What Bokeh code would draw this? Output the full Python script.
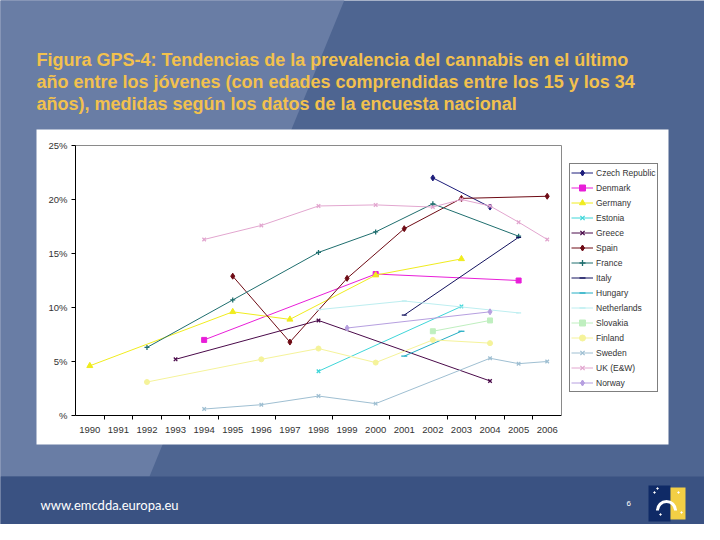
import math
from bokeh.plotting import figure
from bokeh.models import Range1d, LinearAxis, FixedTicker, Legend, LegendItem
from bokeh.embed import file_html
from bokeh.resources import INLINE
from bokeh.core.properties import value

# ---------------- data ----------------
title_lines = [
    "Figura GPS-4: Tendencias de la prevalencia del cannabis en el último",
    "año entre los jóvenes (con edades comprendidas entre los 15 y los 34",
    "años), medidas según los datos de la encuesta nacional",
]
footer_url = "www.emcdda.europa.eu"
page_number = "6"

year_ticks = list(range(1990, 2007))
year_tick_labels = [str(y) for y in year_ticks]
year_boundaries = [1990.5, 1991.5, 1992.5, 1993.5, 1994.5, 1996.5,
                   1998.5, 2000.5, 2002.5, 2003.5, 2004.5, 2005.5]
pct_ticks = [0, 5, 10, 15, 20, 25]
pct_tick_labels = ["%", "5%", "10%", "15%", "20%", "25%"]

countries = ["Czech Republic", "Denmark", "Germany", "Estonia", "Greece",
             "Spain", "France", "Italy", "Hungary", "Netherlands",
             "Slovakia", "Finland", "Sweden", "UK (E&W)", "Norway"]

czech_years = [2002, 2004]
czech_values = [22.0, 19.3]
denmark_years = [1994, 2000, 2005]
denmark_values = [7.0, 13.1, 12.5]
germany_years = [1990, 1995, 1997, 2000, 2003]
germany_values = [4.6, 9.6, 8.9, 13.0, 14.5]
estonia_years = [1998, 2003]
estonia_values = [4.1, 10.1]
greece_years = [1993, 1998, 2004]
greece_values = [5.2, 8.8, 3.2]
spain_years = [1995, 1997, 1999, 2001, 2003, 2006]
spain_values = [12.9, 6.8, 12.7, 17.3, 20.1, 20.3]
france_years = [1992, 1995, 1998, 2000, 2002, 2005]
france_values = [6.3, 10.7, 15.1, 17.0, 19.6, 16.6]
italy_years = [2001, 2005]
italy_values = [9.3, 16.5]
hungary_years = [2001, 2003]
hungary_values = [5.5, 7.8]
netherlands_years = [1998, 2001, 2005]
netherlands_values = [9.8, 10.6, 9.5]
slovakia_years = [2002, 2004]
slovakia_values = [7.8, 8.8]
finland_years = [1992, 1996, 1998, 2000, 2002, 2004]
finland_values = [3.1, 5.2, 6.2, 4.9, 7.0, 6.7]
sweden_years = [1994, 1996, 1998, 2000, 2004, 2005, 2006]
sweden_values = [0.6, 1.0, 1.8, 1.1, 5.3, 4.8, 5.0]
uk_years = [1994, 1996, 1998, 2000, 2002, 2003, 2004, 2005, 2006]
uk_values = [16.3, 17.6, 19.4, 19.5, 19.3, 20.0, 19.4, 17.9, 16.3]
norway_years = [1999, 2004]
norway_values = [8.1, 9.6]

series_years = [czech_years, denmark_years, germany_years, estonia_years,
                greece_years, spain_years, france_years, italy_years,
                hungary_years, netherlands_years, slovakia_years,
                finland_years, sweden_years, uk_years, norway_years]
series_values = [czech_values, denmark_values, germany_values, estonia_values,
                 greece_values, spain_values, france_values, italy_values,
                 hungary_values, netherlands_values, slovakia_values,
                 finland_values, sweden_values, uk_values, norway_values]

# ---------------- styles ----------------
colors = ["#1c1c7a", "#e81ed8", "#f0ec1e", "#3fd6d9", "#4a0a4a",
          "#6e0a14", "#1f6e6e", "#12125e", "#25aec4", "#bdeef0",
          "#bfefbf", "#f5f39a", "#9fbfd2", "#e2a6cf", "#b69fe0"]
markers = ["diamond", "square", "triangle", "x", "x",
           "diamond", "cross", "dash", "dash", "dash",
           "square", "circle", "x", "x", "diamond"]
msizes = [6, 5, 6, 5, 5, 6, 5, 5, 6, 5, 5, 5, 5, 5, 6]

W, H, OFF = 704, 524, 8
PLOT_L, PLOT_R, PLOT_T, PLOT_B = 83, 569, 153, 423   # page pixels
X_MIN, X_MAX = 1989.5, 2006.5
Y_MIN, Y_MAX = 0, 25

xs = (PLOT_R - PLOT_L) / (X_MAX - X_MIN)
ys = (PLOT_B - PLOT_T) / (Y_MAX - Y_MIN)
x_start = X_MIN - (PLOT_L - OFF) / xs
x_end = X_MAX + (OFF + W - PLOT_R) / xs
y_start = Y_MIN - (OFF + H - PLOT_B) / ys
y_end = Y_MAX + (PLOT_T - OFF) / ys

p = figure(width=W, height=H, x_range=Range1d(x_start, x_end),
           y_range=Range1d(y_start, y_end), x_axis_type=None, y_axis_type=None,
           toolbar_location=None, output_backend="svg", min_border=0,
           outline_line_color=None, background_fill_color="white",
           border_fill_color="white")
p.extra_x_ranges = {"px": Range1d(OFF, OFF + W)}
p.extra_y_ranges = {"px": Range1d(OFF + H, OFF)}
PX = dict(x_range_name="px", y_range_name="px")

# ---------------- slide background ----------------
p.quad(left=[0], right=[720], top=[0], bottom=[540], fill_color="#4e6591",
       line_color=None, **PX)
p.patch([0, 355, 157, 0], [0, 0, 484, 484], fill_color="#697da5",
        line_color=None, **PX)
p.quad(left=[0], right=[720], top=[484], bottom=[540], fill_color="#3a5282",
       line_color=None, **PX)
p.quad(left=[44], right=[676], top=[137], bottom=[452], fill_color="white",
       line_color=None, **PX)

p.text(x=[44, 44, 44], y=[67, 89, 111], text=title_lines,
       text_font=value("Liberation Sans"), text_font_style="bold",
       text_font_size="18px", text_color="#f2c14e", text_baseline="alphabetic",
       **PX)

p.text(x=[48], y=[512], text=[footer_url], text_font=value("Lato"),
       text_font_size="13px", text_color="white", text_baseline="middle", **PX)
p.text(x=[634], y=[511], text=[page_number], text_font=value("Liberation Sans"),
       text_font_size="8px", text_color="white", text_baseline="middle", **PX)

# EU emblem (decorative)
p.quad(left=[656], right=[678], top=[493], bottom=[529], fill_color="#0f2a66",
       line_color=None, **PX)
p.quad(left=[678], right=[693], top=[495], bottom=[527], fill_color="#f3cf45",
       line_color=None, **PX)
p.arc(x=[674], y=[518], radius=9, start_angle=0, end_angle=math.pi,
      line_color="white", line_width=3, **PX)
p.scatter(x=[662, 665, 668, 686, 689], y=[500, 496, 522, 500, 520], size=1.5,
          marker="circle", color="white", **PX)

# ---------------- axes ----------------
yaxis = LinearAxis(fixed_location=X_MIN, bounds=(Y_MIN, Y_MAX),
                   ticker=FixedTicker(ticks=pct_ticks, minor_ticks=[]),
                   major_label_overrides=dict(zip(pct_ticks, pct_tick_labels)),
                   axis_line_color="black", major_tick_line_color="black",
                   major_tick_out=4, major_tick_in=0, minor_tick_out=0,
                   major_label_standoff=4,
                   major_label_text_font="Liberation Sans",
                   major_label_text_font_size="9.5px",
                   major_label_text_color="#333333")
p.add_layout(yaxis, "left")

xaxis = LinearAxis(fixed_location=Y_MIN, bounds=(X_MIN, X_MAX),
                   ticker=FixedTicker(ticks=year_ticks, minor_ticks=year_boundaries),
                   major_label_overrides=dict(zip(year_ticks, year_tick_labels)),
                   axis_line_color="black", major_tick_out=0, major_tick_in=0,
                   major_tick_line_color=None,
                   minor_tick_out=4, minor_tick_in=0, minor_tick_line_color="black",
                   major_label_standoff=7,
                   major_label_text_font="Liberation Sans",
                   major_label_text_font_size="9.5px",
                   major_label_text_color="#333333")
p.add_layout(xaxis, "below")

top_border = LinearAxis(fixed_location=Y_MAX, bounds=(X_MIN, X_MAX),
                        ticker=FixedTicker(ticks=[], minor_ticks=[]),
                        axis_line_color="#8a8a8a", major_tick_line_color=None,
                        minor_tick_line_color=None, major_label_text_font_size="0px")
p.add_layout(top_border, "above")
right_border = LinearAxis(fixed_location=X_MAX, bounds=(Y_MIN, Y_MAX),
                          ticker=FixedTicker(ticks=[], minor_ticks=[]),
                          axis_line_color="#8a8a8a", major_tick_line_color=None,
                          minor_tick_line_color=None, major_label_text_font_size="0px")
p.add_layout(right_border, "right")

# ---------------- series ----------------
items = []
for name, yrs, vals, c, m, s in zip(countries, series_years, series_values,
                                    colors, markers, msizes):
    lr = p.line(yrs, vals, line_color=c, line_width=1)
    sr = p.scatter(yrs, vals, marker=m, size=s, line_color=c, fill_color=c,
                   line_width=1.3 if m in ("x", "cross", "dash") else 1)
    items.append(LegendItem(label=name, renderers=[lr, sr]))

LEG_L, LEG_B = 577, 400
legend = Legend(items=items, location=(LEG_L - OFF, OFF + H - LEG_B),
                border_line_color="black", border_line_width=1,
                background_fill_color="white", background_fill_alpha=1,
                label_text_font="Liberation Sans", label_text_font_size="8.5px",
                label_text_color="#333333", glyph_width=22, glyph_height=15,
                label_height=15, spacing=0, padding=1, margin=0,
                label_standoff=3)
p.add_layout(legend)

open("out.html", "w").write(file_html(p, INLINE))
